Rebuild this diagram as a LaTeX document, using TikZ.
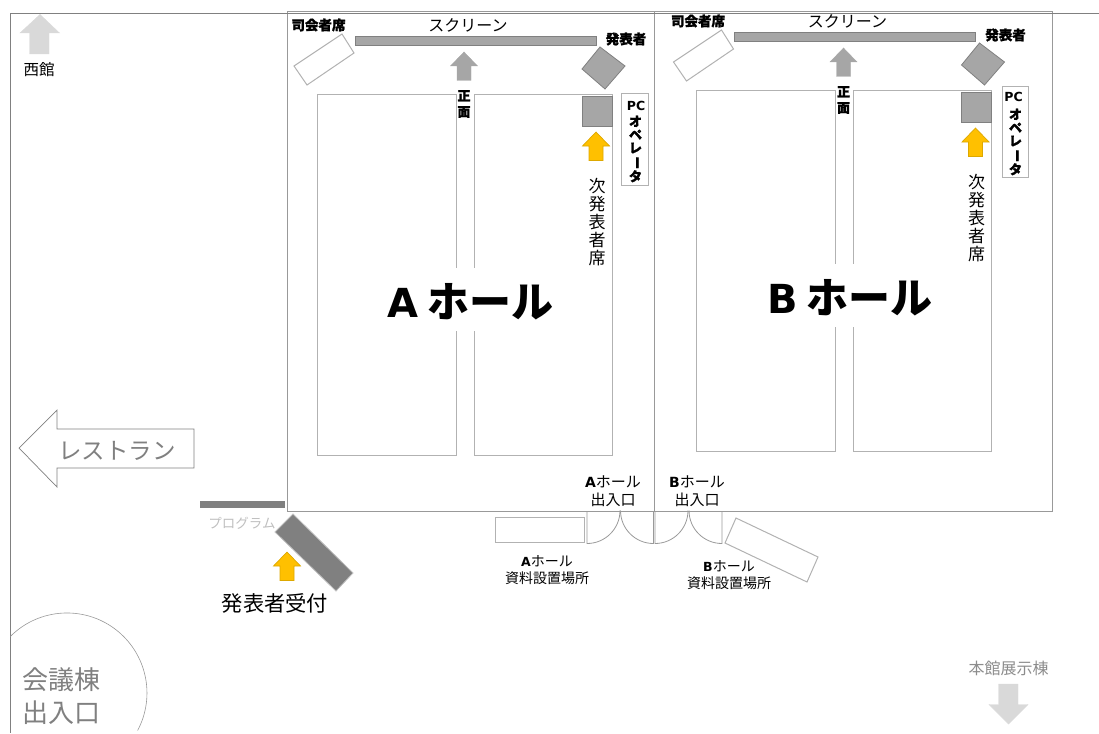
\documentclass[tikz,border=0pt]{standalone}
\usepackage{fontspec}
\setmainfont{Noto Sans CJK JP}
\newfontfamily\latinfont{DejaVu Sans}
\newfontfamily\heavyfont[BoldFeatures={FakeBold=1.5}]{Noto Sans CJK JP}
\usetikzlibrary{calc}
\definecolor{arrowfill}{HTML}{FFC000}
\definecolor{arrowline}{HTML}{DDA800}
\newcommand{\fs}[1]{\fontsize{#1}{#1}\selectfont}
\tikzset{
  wall/.style={draw=black!40, line width=1pt},
  outer/.style={draw=black!50, line width=1pt},
  seat/.style={draw=black!30, line width=1pt, fill=white},
  table/.style={draw=black!30, line width=1pt, fill=white},
  solid gray/.style={draw=black!50, line width=0.8pt, fill=black!35},
  dark gray/.style={draw=black!25, line width=0.8pt, fill=black!50},
  yellow arrow/.style={draw=arrowline, line width=0.7pt, fill=arrowfill},
  gray arrow/.style={draw=black!35, fill=black!35},
  pale arrow/.style={draw=black!15, fill=black!15},
  bold label/.style={font=\heavyfont\bfseries\fs{13.5}, inner sep=0pt, align=center},
  plain label/.style={font=\fs{14}, inner sep=0pt, align=center},
  gray label/.style={font=\fs{23.5}, text=black!50, inner sep=0pt, align=center},
  door/.style={draw=black!40, line width=0.8pt}
}
% up arrow, tip at (#2,#3)
\newcommand{\uparr}[3]{
  \draw[#1] (#2,#3) -- ++(13.5,14) -- ++(-6.5,0) -- ++(0,14.5) -- ++(-14,0) -- ++(0,-14.5) -- ++(-6.5,0) -- cycle;
}
% things that both halls have
\newcommand{\hallitems}[1]{
  \draw[seat] (317,95) rectangle (456,455);
  \draw[seat] (474,95) rectangle (612,455);
  \draw[solid gray] (355,36) rectangle (596,45);
  \draw[solid gray] (582,96) rectangle (612,126);
  \draw[solid gray] (600,47) -- (625,66) -- (605,89) -- (582,69) -- cycle;
  \draw[table] (342,34) -- (354,53) -- (307,85) -- (294,66) -- cycle;
  \uparr{gray arrow}{464}{52}
  \uparr{yellow arrow}{596}{132}
  \node[font=\fs{16}, inner sep=0pt] (screen) at (468,25) {スクリーン};
  \node[bold label] (chair) at (318.5,25) {司会者席};
  \node[bold label] (speaker) at (626,39) {発表者};
  \node[bold label, fill=white, font=\heavyfont\bfseries\fontsize{13}{16}\selectfont] (front) at (464,104) {正\\面};
  \node[inner sep=0pt, align=center, font=\fontsize{17}{18.2}\selectfont] (next) at (597,222) {次\\発\\表\\者\\席};
  \node[inner sep=0pt, fill=white, text height=49pt, text depth=14pt, font=\fs{42}] (hall) at (470.5,299.5) {{\latinfont\fs{40}\bfseries #1} {\bfseries ホール}};
}
\begin{document}
\begin{tikzpicture}[x=1pt, y=-1pt]
  \useasboundingbox (0,0) rectangle (1099,733);
  % halls
  \begin{scope}[name prefix=a-]
    \hallitems{A}
    \draw[seat] (621,94) rectangle (648,185);
    \node[bold label, font=\latinfont\bfseries\fs{12.5}] (pc) at (636,106) {PC};
    \node[bold label, font=\heavyfont\bfseries\fontsize{13}{13.2}\selectfont] (operator) at (635.5,149) {オ\\ペ\\レ\\\rotatebox[origin=c]{-90}{ー}\\タ};
  \end{scope}
  \begin{scope}[shift={(379.5,-4)}, name prefix=b-]
    \hallitems{B}
    \draw[seat] (622.5,91) rectangle (648.5,181);
    \node[bold label, font=\latinfont\bfseries\fs{12.5}] (pc) at (634,101) {PC};
    \node[bold label, font=\heavyfont\bfseries\fontsize{13}{13.2}\selectfont] (operator) at (636,146) {オ\\ペ\\レ\\\rotatebox[origin=c]{-90}{ー}\\タ};
  \end{scope}
  \draw[wall] (287,11.5) rectangle (654,511.5);
  \draw[wall] (654,11.5) rectangle (1052,511.5);
  \draw[outer] (1099,14) -- (10,14) -- (10,733);
  % doors
  \draw[door] (587,511.5) -- (587,543.5) arc[start angle=90, end angle=0, radius=33];
  \draw[door] (653.5,511.5) -- (653.5,543.5) arc[start angle=90, end angle=180, radius=33];
  \draw[door] (655,511.5) -- (655,543.5) arc[start angle=90, end angle=0, radius=33];
  \draw[door] (722,511.5) -- (722,543.5) arc[start angle=90, end angle=180, radius=33];
  \node[plain label, font=\fontsize{15}{18}\selectfont] (a door) at (613,491) {{\latinfont\fs{14}\bfseries A}ホール\\出入口};
  \node[plain label, font=\fontsize{15}{18}\selectfont] (b door) at (697,491) {{\latinfont\fs{14}\bfseries B}ホール\\出入口};
  % material tables
  \draw[table] (495,517) rectangle (584,542);
  \draw[table] (736,518) -- (818,557) -- (807,582) -- (725,543) -- cycle;
  \node[plain label, font=\fontsize{14}{17.5}\selectfont] (a material) at (547,570) {{\latinfont\fs{12.5}\bfseries A}ホール\\資料設置場所};
  \node[plain label, font=\fontsize{14}{17.5}\selectfont] (b material) at (729,575) {{\latinfont\fs{12.5}\bfseries B}ホール\\資料設置場所};
  % reception
  \draw[dark gray, draw=black!50] (200,501) rectangle (284,507);
  \draw[dark gray] (293,514) -- (353,573) -- (336,591) -- (275,532) -- cycle;
  \node[plain label, text=black!25, font=\fs{13.5}] (program) at (242,523) {プログラム};
  \uparr{yellow arrow}{287}{552}
  \node[plain label, font=\fs{21.3}] (reception) at (275,603) {発表者受付};
  % outside
  \draw[draw=black!50, line width=0.7pt, fill=white] (19,448) -- (57,410) -- (57,429) -- (194,429) -- (194,468) -- (57,468) -- (57,487) -- cycle;
  \node[gray label] (restaurant) at (117,451) {レストラン};
  \draw[draw=black!40, line width=0.6pt] (10.4,636.4) arc[start angle=225, end angle=388, radius=80];
  \node[gray label, font=\fontsize{26}{32.5}\selectfont] (conference) at (61,696) {会議棟\\出入口};
  \draw[pale arrow] (40,14.5) -- (59.5,33) -- (49,33) -- (49,54) -- (29.5,54) -- (29.5,33) -- (20,33) -- cycle;
  \node[plain label, font=\fs{15.5}] (west) at (39,70) {西館};
  \node[plain label, text=black!45, font=\fs{16}] (main) at (1008.5,668) {本館展示棟};
  \draw[pale arrow] (1008.5,724) -- (989,704.5) -- (998.5,704.5) -- (998.5,684) -- (1018,684) -- (1018,704.5) -- (1028,704.5) -- cycle;
\end{tikzpicture}
\end{document}
